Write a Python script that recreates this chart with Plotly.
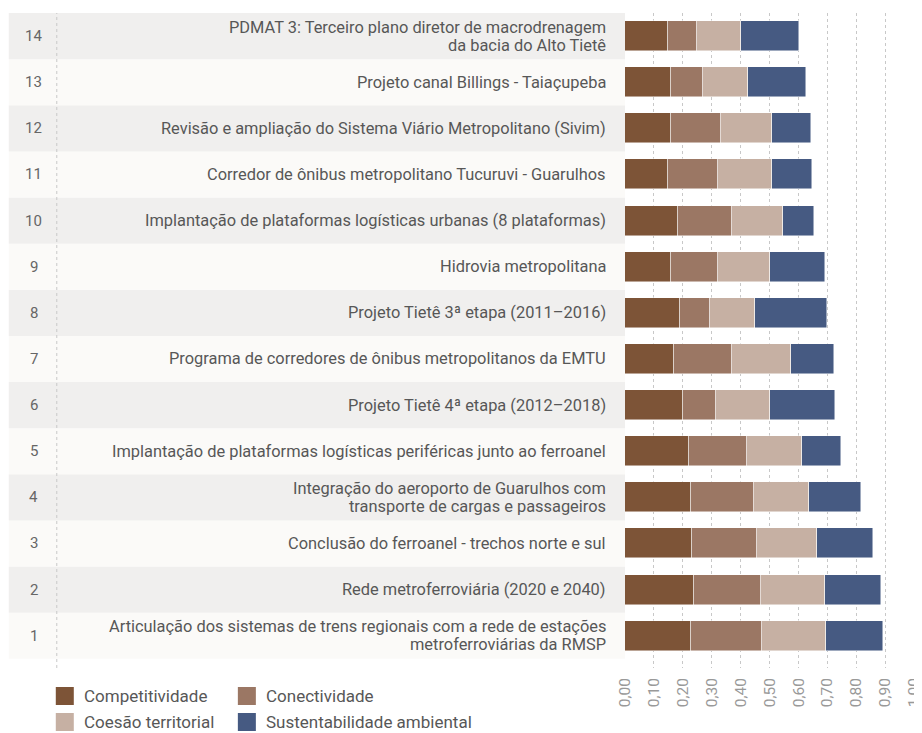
import plotly.graph_objects as go

# projects, listed from 1 (bottom) to 14 (top)
ranks = list(range(1, 15))
projects = [
    "Articulação dos sistemas de trens regionais com a rede de estações<br>metroferroviárias da RMSP",
    "Rede metroferroviária (2020 e 2040)",
    "Conclusão do ferroanel - trechos norte e sul",
    "Integração do aeroporto de Guarulhos com<br>transporte de cargas e passageiros",
    "Implantação de plataformas logísticas periféricas junto ao ferroanel",
    "Projeto Tietê 4ª etapa (2012–2018)",
    "Programa de corredores de ônibus metropolitanos da EMTU",
    "Projeto Tietê 3ª etapa (2011–2016)",
    "Hidrovia metropolitana",
    "Implantação de plataformas logísticas urbanas (8 plataformas)",
    "Corredor de ônibus metropolitano Tucuruvi - Guarulhos",
    "Revisão e ampliação do Sistema Viário Metropolitano (Sivim)",
    "Projeto canal Billings - Taiaçupeba",
    "PDMAT 3: Terceiro plano diretor de macrodrenagem<br>da bacia do Alto Tietê",
]

competitividade = [0.227, 0.238, 0.232, 0.227, 0.221, 0.201, 0.168,
                   0.190, 0.158, 0.185, 0.148, 0.158, 0.158, 0.148]
conectividade = [0.248, 0.232, 0.226, 0.220, 0.201, 0.115, 0.201,
                 0.105, 0.164, 0.184, 0.174, 0.174, 0.111, 0.100]
coesao = [0.221, 0.221, 0.206, 0.190, 0.189, 0.185, 0.205,
          0.153, 0.179, 0.179, 0.188, 0.178, 0.158, 0.152]
sustentabilidade = [0.195, 0.195, 0.195, 0.180, 0.137, 0.227, 0.148,
                    0.249, 0.190, 0.106, 0.138, 0.132, 0.200, 0.201]

series = [
    ("Competitividade", competitividade, "#7d5437"),
    ("Conectividade", conectividade, "#9b7764"),
    ("Coesão territorial", coesao, "#c6b0a3"),
    ("Sustentabilidade ambiental", sustentabilidade, "#465a82"),
]

x_ticks = [0.0, 0.1, 0.2, 0.3, 0.4, 0.5, 0.6, 0.7, 0.8, 0.9, 1.0]
X_MAX = 1.01

# page body has an 8px margin, so work in screen pixels and shift;
# the div runs a little past the window so the last tick label fits
OFF = 8
W, H = 940, 733 - OFF
PLOT_L, PLOT_T, PLOT_B = 625, 13, 668  # screen px
PLOT_R = PLOT_L + 289 * X_MAX
L, R, T, B = PLOT_L - OFF, W + OFF - PLOT_R, PLOT_T - OFF, 733 - PLOT_B
PW, PH = PLOT_R - PLOT_L, PLOT_B - PLOT_T


def px_x(p):
    return (p - PLOT_L) / PW


def px_y(p):
    return (PLOT_B - p) / PH


fig = go.Figure()

for name, values, color in series:
    fig.add_trace(
        go.Bar(
            y=ranks,
            x=values,
            name=name,
            orientation="h",
            width=0.65,
            marker=dict(color=color, line=dict(color="rgba(255,255,255,0.6)", width=0.8)),
            showlegend=False,
        )
    )

label_font = dict(family="Roboto", size=16.4, color="#575757")

# row stripes, rank numbers and project names
for rank, label in zip(ranks, projects):
    fig.add_shape(
        type="rect",
        xref="paper", yref="y",
        x0=px_x(9), x1=0, y0=rank - 0.5, y1=rank + 0.5,
        fillcolor="#f0efee" if rank % 2 == 0 else "#fbfaf8",
        line_width=0,
        layer="below",
    )
    fig.add_annotation(
        xref="paper", yref="y", x=px_x(34), y=rank,
        text=str(rank), showarrow=False, xanchor="center",
        font=dict(family="Roboto", size=15, color="#666666"),
    )
    lines = label.split("<br>")
    shifts = [0] if len(lines) == 1 else [9, -9]
    for line, shift in zip(lines, shifts):
        fig.add_annotation(
            xref="paper", yref="y", x=0, y=rank, xshift=-17, yshift=shift,
            text=line, showarrow=False, xanchor="right", align="right",
            font=label_font,
        )

# dotted divider between rank and name
fig.add_shape(
    type="line", xref="paper", yref="paper",
    x0=px_x(57), x1=px_x(57), y0=0, y1=1,
    line=dict(color="#c8c8c8", width=1, dash="dot"),
)

# legend, two columns
legend_pos = [(56, 687), (238, 687), (56, 713), (238, 713)]
for (name, _, color), (lx, ly) in zip(series, legend_pos):
    fig.add_shape(
        type="rect", xref="paper", yref="paper",
        x0=px_x(lx), x1=px_x(lx + 18), y0=px_y(ly + 18), y1=px_y(ly),
        fillcolor=color, line_width=0,
    )
    fig.add_annotation(
        xref="paper", yref="paper", x=px_x(lx + 26), y=px_y(ly + 9),
        text=name, showarrow=False, xanchor="left", yanchor="middle",
        font=dict(family="Roboto", size=17, color="#575757"),
    )

fig.update_layout(
    width=W,
    height=H,
    margin=dict(l=L, r=R, t=T, b=B),
    barmode="stack",
    bargap=0,
    separators=",.",
    plot_bgcolor="white",
    paper_bgcolor="white",
    xaxis=dict(
        range=[0, X_MAX],
        tickvals=x_ticks,
        tickformat=".2f",
        tickangle=-90,
        showgrid=True,
        gridcolor="#c8c8c8",
        griddash="dot",
        gridwidth=1,
        zeroline=False,
        showline=False,
        ticks="",
        ticklabelstandoff=6,
        tickfont=dict(family="Roboto", size=15.5, color="#999999"),
    ),
    yaxis=dict(
        range=[0.3, 14.5],
        showgrid=False,
        zeroline=False,
        showticklabels=False,
        fixedrange=True,
    ),
)

fig.write_html("out.html")
